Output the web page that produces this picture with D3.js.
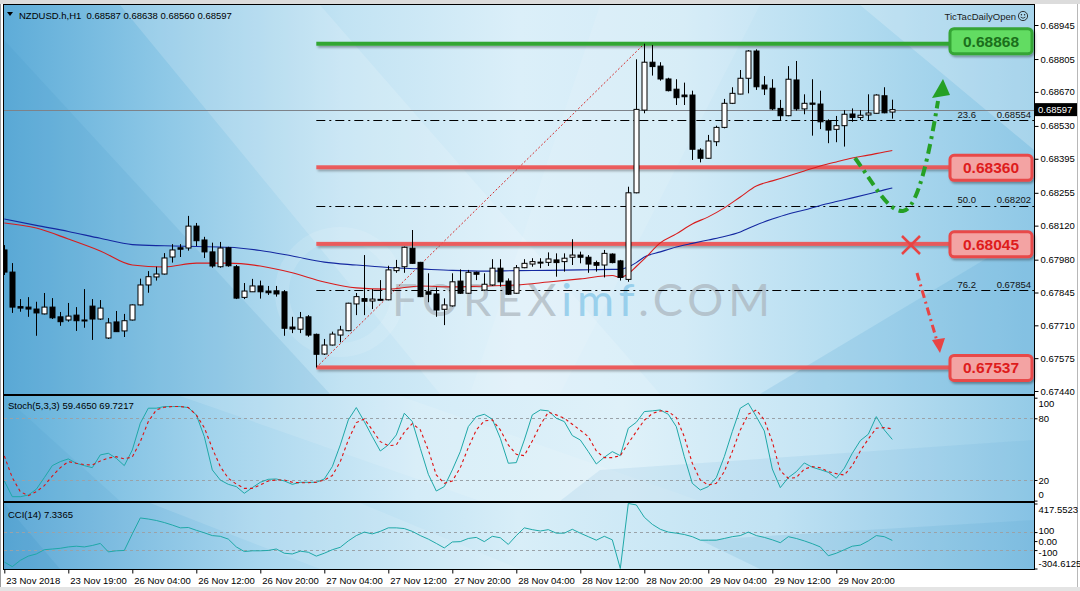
<!DOCTYPE html>
<html><head><meta charset="utf-8">
<script src="https://cdn.jsdelivr.net/npm/d3@7"></script>
<style>
html,body{margin:0;padding:0;background:#fff;overflow:hidden;}
svg{display:block;font-family:"Liberation Sans",Arial,sans-serif;}
</style></head><body>
<svg id="c" width="1080" height="591"></svg>
<script>
// ---------------- DATA ----------------
const headerText = "NZDUSD.h,H1  0.68587 0.68638 0.68560 0.68597";
const stochText = "Stoch(5,3,3) 59.4650 69.7217";
const cciText = "CCI(14) 7.3365";
const brandText = "TicTacDailyOpen";
const timeTickBars = [0,8,16,24,32,40,48,56,64,72,80,88,96,104];
const timeLabels = ["23 Nov 2018","23 Nov 19:00","26 Nov 04:00","26 Nov 12:00","26 Nov 20:00","27 Nov 04:00","27 Nov 12:00","27 Nov 20:00","28 Nov 04:00","28 Nov 12:00","28 Nov 20:00","29 Nov 04:00","29 Nov 12:00","29 Nov 20:00"];
const priceTicks = [0.68945,0.68805,0.68670,0.68530,0.68395,0.68255,0.68120,0.67980,0.67845,0.67710,0.67575,0.67440];
const stochTicks = [100,80,20,0];
const stochLevels = [80,20];
const cciTicks = [417.5523,100,0,-100,-304.6125];
const cciTickLabels = ["417.5523","100","0.00","-100","-304.6125"];
const cciLevels = [100,-100];

const open = [0.68020,0.67929,0.67787,0.67785,0.67777,0.67757,0.67785,0.67745,0.67732,0.67752,
0.67732,0.67789,0.67736,0.67658,0.67724,0.67687,0.67732,0.67794,0.67876,0.67909,
0.67921,0.67991,0.68029,0.68028,0.68118,0.68061,0.68012,0.67951,0.68029,0.67951,
0.67825,0.67848,0.67872,0.67851,0.67852,0.67848,0.67703,0.67694,0.67745,0.67673,
0.67592,0.67629,0.67670,0.67688,0.67798,0.67820,0.67810,0.67817,0.67815,0.67935,
0.67951,0.68027,0.67969,0.67848,0.67839,0.67776,0.67790,0.67892,0.67842,0.67928,
0.67855,0.67876,0.67945,0.67892,0.67842,0.67947,0.67962,0.67970,0.67969,0.67979,
0.67972,0.67990,0.67999,0.67990,0.67968,0.67958,0.68003,0.67975,0.67899,0.68255,
0.68595,0.68792,0.68776,0.68723,0.68681,0.68657,0.68657,0.68431,0.68397,0.68465,
0.68524,0.68623,0.68661,0.68726,0.68838,0.68698,0.68685,0.68602,0.68572,0.68719,
0.68600,0.68624,0.68620,0.68551,0.68516,0.68531,0.68579,0.68565,0.68575,0.68582,
0.68654,0.68587];
const high = [0.68040,0.67966,0.67818,0.67826,0.67807,0.67843,0.67822,0.67765,0.67802,0.67785,
0.67859,0.67818,0.67814,0.67740,0.67769,0.67757,0.67796,0.67902,0.67933,0.67951,
0.68007,0.68044,0.68044,0.68160,0.68131,0.68074,0.68050,0.68053,0.68033,0.67958,
0.67884,0.67901,0.67894,0.67872,0.67872,0.67855,0.67745,0.67765,0.67752,0.67676,
0.67654,0.67684,0.67708,0.67803,0.67843,0.67999,0.67859,0.67896,0.67955,0.67979,
0.68034,0.68102,0.67971,0.67924,0.67866,0.67821,0.67924,0.67940,0.67938,0.67931,
0.67924,0.67982,0.67982,0.67903,0.67958,0.67982,0.67986,0.67986,0.68010,0.68006,
0.68006,0.68064,0.68013,0.67999,0.67976,0.68020,0.68006,0.67979,0.68280,0.68804,
0.68868,0.68863,0.68792,0.68728,0.68722,0.68708,0.68675,0.68438,0.68493,0.68531,
0.68641,0.68689,0.68760,0.68842,0.68845,0.68735,0.68722,0.68637,0.68776,0.68797,
0.68660,0.68722,0.68675,0.68557,0.68571,0.68595,0.68602,0.68595,0.68660,0.68660,
0.68689,0.68638];
const low = [0.67917,0.67761,0.67766,0.67745,0.67667,0.67755,0.67736,0.67708,0.67725,0.67687,
0.67700,0.67650,0.67732,0.67654,0.67683,0.67662,0.67730,0.67792,0.67844,0.67894,
0.67919,0.67968,0.67991,0.68017,0.68036,0.67987,0.67947,0.67947,0.67951,0.67818,
0.67818,0.67847,0.67820,0.67835,0.67828,0.67667,0.67678,0.67678,0.67663,0.67537,
0.67588,0.67627,0.67640,0.67686,0.67752,0.67752,0.67777,0.67812,0.67813,0.67926,
0.67926,0.67963,0.67826,0.67805,0.67745,0.67711,0.67787,0.67839,0.67840,0.67896,
0.67852,0.67872,0.67869,0.67835,0.67840,0.67945,0.67951,0.67945,0.67954,0.67910,
0.67931,0.67958,0.67965,0.67926,0.67931,0.67907,0.67965,0.67894,0.67889,0.68253,
0.68582,0.68737,0.68716,0.68672,0.68616,0.68616,0.68390,0.68380,0.68395,0.68447,
0.68520,0.68620,0.68660,0.68664,0.68678,0.68657,0.68595,0.68551,0.68570,0.68593,
0.68578,0.68490,0.68517,0.68459,0.68463,0.68445,0.68547,0.68554,0.68554,0.68581,
0.68582,0.68560];
const close = [0.67929,0.67785,0.67781,0.67777,0.67761,0.67785,0.67741,0.67725,0.67748,0.67729,
0.67730,0.67736,0.67781,0.67720,0.67684,0.67729,0.67794,0.67876,0.67910,0.67921,
0.67987,0.68020,0.68023,0.68118,0.68058,0.68012,0.67954,0.68028,0.67955,0.67822,
0.67851,0.67872,0.67848,0.67844,0.67839,0.67698,0.67695,0.67741,0.67670,0.67591,
0.67629,0.67674,0.67691,0.67801,0.67828,0.67809,0.67818,0.67814,0.67938,0.67947,
0.68031,0.67965,0.67828,0.67838,0.67773,0.67794,0.67889,0.67842,0.67928,0.67920,
0.67879,0.67945,0.67889,0.67838,0.67947,0.67965,0.67972,0.67968,0.67983,0.67968,
0.67986,0.67999,0.67990,0.67962,0.67957,0.68006,0.67968,0.67907,0.68255,0.68598,
0.68792,0.68774,0.68723,0.68675,0.68646,0.68650,0.68434,0.68397,0.68468,0.68524,
0.68623,0.68664,0.68726,0.68838,0.68691,0.68682,0.68600,0.68572,0.68722,0.68600,
0.68623,0.68619,0.68547,0.68513,0.68531,0.68578,0.68565,0.68574,0.68583,0.68657,
0.68584,0.68597];

// moving averages at these bars
const maBars = [0,4,8,12,16,20,24,28,32,36,40,44,48,52,56,60,64,68,72,76,77,78,79,80,82,84,86,88,90,92,94,96,98,100,102,104,106,108,110,111];
const maRed = [0.68131,0.68110,0.68065,0.68016,0.67958,0.67950,0.67966,0.67966,0.67954,0.67926,
0.67888,0.67864,0.67859,0.67872,0.67868,0.67872,0.67876,0.67888,0.67901,0.67915,
0.67907,0.67922,0.67952,0.67983,0.68049,0.68086,0.68127,0.68156,0.68193,0.68238,
0.68283,0.68304,0.68324,0.68345,0.68365,0.68382,0.68398,0.68410,0.68423,0.68429];
const maBlue = [0.68147,0.68121,0.68096,0.68068,0.68042,0.68037,0.68034,0.68031,0.68018,0.67995,
0.67970,0.67958,0.67948,0.67942,0.67936,0.67933,0.67935,0.67936,0.67938,0.67940,
0.67940,0.67950,0.67968,0.67991,0.68012,0.68032,0.68047,0.68061,0.68075,0.68094,
0.68123,0.68147,0.68168,0.68184,0.68203,0.68219,0.68234,0.68250,0.68267,0.68275];

const stochMain = [19.1,3.8,3.8,5.4,11.0,22.3,34.0,37.9,40.5,36.3,
34.0,32.0,44.4,46.0,41.1,34.0,49.2,75.2,89.8,89.8,
91.4,91.4,91.4,90.4,83.3,62.2,29.8,20.0,15.8,13.6,
7.1,12.6,17.8,20.7,21.0,19.1,15.8,17.8,17.8,17.8,
21.0,33.0,54.1,78.4,90.4,76.8,62.2,48.2,54.1,63.8,
84.9,76.8,50.8,25.6,9.3,13.6,29.8,47.6,71.9,81.6,
83.9,79.1,60.6,36.3,36.9,58.9,83.3,88.1,87.2,80.0,
76.8,63.2,58.9,47.6,35.6,42.1,47.6,43.7,70.3,76.1,
86.5,87.2,88.1,83.9,71.9,42.7,16.8,10.3,13.6,22.3,
42.7,67.1,89.8,94.6,81.6,67.7,30.7,12.6,22.3,28.1,
36.6,32.4,30.1,27.5,21.7,31.4,46.0,58.3,64.5,81.6,
68.7,59.465];
const stochSignal = [43.4,22.3,8.7,4.8,8.7,14.5,23.9,32.0,37.9,36.3,
35.0,34.6,38.5,41.4,42.7,40.5,42.4,57.3,76.8,88.1,
90.7,91.4,91.4,90.4,83.3,70.9,50.8,33.0,21.7,16.1,
11.9,11.9,15.2,19.1,20.0,20.0,17.8,17.4,17.4,17.8,
20.0,24.3,37.9,58.9,75.8,79.4,68.7,57.3,53.4,54.1,
66.4,74.8,68.7,49.2,24.9,16.8,19.1,32.0,51.5,68.7,
77.4,78.4,68.7,54.1,45.0,43.7,58.0,73.5,85.9,83.3,
80.0,74.2,68.4,62.2,48.2,41.8,41.8,43.7,55.7,67.1,
78.1,84.6,87.2,86.5,80.7,62.2,36.3,20.0,15.2,16.8,
28.1,47.6,68.7,83.9,88.1,78.4,57.3,28.8,21.7,22.3,
30.7,33.0,32.0,28.1,26.2,24.9,34.0,48.2,59.9,70.3,
70.9,69.7217];
const cci = [-233,-284,-214,-167,-143,-96,-88,-80,-65,-57,
-65,-49,-26,-120,-108,-104,80,257,245,229,
206,178,147,151,120,92,61,53,22,-65,
-116,-108,-108,-104,-88,-135,-143,-112,-124,-167,
-135,-96,-69,2,61,100,80,108,147,147,
139,108,61,22,-26,-76,-10,-6,29,41,
-6,53,37,-37,61,147,127,112,127,88,
88,131,88,49,10,53,14,-304.6125,417.5523,402,
265,186,131,100,88,73,49,10,10,10,
29,49,61,100,61,41,14,-18,49,29,
2,-29,-65,-163,-135,-96,-57,-45,2,61,
49,7.3365];

// horizontal levels and Fibonacci retracement
const levelValues = [0.68868,0.68360,0.68045,0.67537];
const fibLow = 0.67537, fibHigh = 0.68868;
const fibLowBar = 39, fibHighBar = 80;
const fibRatios = [23.6,50.0,76.2];
const fibValues = [0.68554,0.68202,0.67854];
const lastPrice = 0.68597;

// ---------------- LAYOUT ----------------
const W=1080,H=591;
const PX0=4, PX1=1034;
const main={y0:5,y1:394}, stoP={y0:396,y1:501}, cciP={y0:503,y1:569};

const svg=d3.select('#c');
const defs=svg.append('defs');

const x=d3.scaleLinear().domain([0,111]).range([4.3,892.3]);
const y=d3.scaleLinear().domain([priceTicks[priceTicks.length-1],priceTicks[0]]).range([391,25]);
const yS=d3.scaleLinear().domain([0,100]).range([500.6,397.7]);
const yC=d3.scaleLinear().domain([cciTicks[4],cciTicks[0]]).range([568.5,503.5]);

// gradients
function lg(id,stops,x2='1',y2='0'){
  const g=defs.append('linearGradient').attr('id',id).attr('x1','0').attr('y1','0').attr('x2',x2).attr('y2',y2);
  stops.forEach(s=>g.append('stop').attr('offset',s[0]).attr('stop-color',s[1]));
}
lg('gMain',[[0,'#5eacd8'],[0.15,'#8cc7e6'],[0.33,'#c2e3f3'],[0.5,'#dbeff9'],[0.66,'#d3ebf7'],[0.82,'#b3dcf0'],[1,'#8fc8e6']]);
lg('gSub',[[0,'#62b0da'],[0.2,'#a2d3ec'],[0.4,'#d4ecf8'],[0.6,'#dff1f9'],[0.8,'#c4e4f4'],[1,'#94cbe7']]);
lg('gCci',[[0,'#5ea9d6'],[0.25,'#a8d6ee'],[0.5,'#d8eef8'],[0.75,'#c0e2f3'],[1,'#86c2e4']]);

const sh=defs.append('filter').attr('id','shadow').attr('filterUnits','userSpaceOnUse')
  .attr('x',0).attr('y',0).attr('width',W).attr('height',H);
sh.append('feDropShadow').attr('dx',1.5).attr('dy',2).attr('stdDeviation',1.3).attr('flood-color','#000').attr('flood-opacity',0.33);

[['cMain',main],['cSto',stoP],['cCci',cciP]].forEach(([id,p])=>{
  defs.append('clipPath').attr('id',id).append('rect').attr('x',PX0).attr('y',p.y0).attr('width',PX1-PX0).attr('height',p.y1-p.y0);
});

// outer chrome
svg.append('rect').attr('width',W).attr('height',H).attr('fill','#ffffff');
svg.append('rect').attr('x',0).attr('y',0).attr('width',W).attr('height',4).attr('fill','#dcdcdc');
svg.append('rect').attr('x',0).attr('y',587).attr('width',W).attr('height',4).attr('fill','#e4e4e4');
svg.append('line').attr('x1',1077.5).attr('x2',1077.5).attr('y1',4).attr('y2',587).attr('stroke','#b8b8b8');
svg.append('line').attr('x1',0.5).attr('x2',0.5).attr('y1',4).attr('y2',587).attr('stroke','#9a9a9a');

// ---------- main panel background ----------
const gM=svg.append('g').attr('clip-path','url(#cMain)');
gM.append('rect').attr('x',PX0).attr('y',main.y0).attr('width',PX1-PX0).attr('height',main.y1-main.y0).attr('fill','url(#gMain)');
gM.append('polygon').attr('points','4,40 4,394 330,394').attr('fill','#3f95c9').attr('opacity',0.14);
gM.append('polygon').attr('points','120,5 320,5 660,394 440,394').attr('fill','#ffffff').attr('opacity',0.16);
gM.append('polygon').attr('points','860,5 1034,5 1034,150').attr('fill','#ffffff').attr('opacity',0.22);
gM.append('polygon').attr('points','760,394 1034,230 1034,394').attr('fill','#4fa3d4').attr('opacity',0.18);
gM.append('polygon').attr('points','600,5 760,5 560,394 470,394').attr('fill','#ffffff').attr('opacity',0.10);
gM.append('circle').attr('cx',340).attr('cy',292).attr('r',58).attr('fill','none').attr('stroke','#ffffff').attr('stroke-width',14).attr('opacity',0.12);

// watermark
const wm=gM.append('text').attr('x',392).attr('y',316).attr('font-family','Lato, "Open Sans", sans-serif')
  .attr('font-size',45).attr('font-weight',400).attr('textLength',378).attr('lengthAdjust','spacing');
wm.append('tspan').text('FOREX').attr('fill','#a9b3bb').attr('fill-opacity',0.7);
wm.append('tspan').text('imf').attr('fill','#84c6e8').attr('fill-opacity',0.75);
wm.append('tspan').text('.COM').attr('fill','#a9b3bb').attr('fill-opacity',0.7);

// fib dash-dot lines
const gF=gM.append('g');
fibValues.forEach((v,k)=>{
  gF.append('line').attr('x1',x(fibLowBar)).attr('x2',PX1).attr('y1',Math.round(y(v))+0.5).attr('y2',Math.round(y(v))+0.5)
    .attr('stroke','#000').attr('stroke-width',1).attr('stroke-dasharray','9,4,2,4');
  gF.append('text').attr('x',976).attr('y',y(v)-2.5).attr('text-anchor','end').attr('font-size',9.5).attr('fill','#111').text(fibRatios[k].toFixed(1));
  gF.append('text').attr('x',1031).attr('y',y(v)-2.5).attr('text-anchor','end').attr('font-size',9.5).attr('fill','#111').text(v.toFixed(5));
});
// fib trend line
gM.append('line').attr('x1',x(fibLowBar)).attr('y1',y(fibLow)).attr('x2',x(fibHighBar)).attr('y2',y(fibHigh))
  .attr('stroke','#d42a2a').attr('stroke-width',1).attr('stroke-dasharray','2,2');

// current price line
gM.append('line').attr('x1',PX0).attr('x2',PX1).attr('y1',Math.round(y(lastPrice))+0.5).attr('y2',Math.round(y(lastPrice))+0.5)
  .attr('stroke','#7d8289').attr('stroke-width',1);

// level lines (drawn as thin bars so the shadow filter has a box), beneath candles
const gL=gM.append('g');
levelValues.forEach(v=>{
  const up=v>lastPrice;
  gL.append('rect').attr('x',x(fibLowBar)).attr('width',950-x(fibLowBar)).attr('y',y(v)-2).attr('height',4)
    .attr('fill',up?'#33a633':'#ee5050').attr('fill-opacity',up?1:0.9).attr('filter','url(#shadow)');
});

// moving averages
const maLine=d3.line().x(d=>x(d[0])).y(d=>y(d[1])).curve(d3.curveMonotoneX);
gM.append('path').attr('d',maLine(maBars.map((b,i)=>[b,maBlue[i]]))).attr('fill','none').attr('stroke','#1428a0').attr('stroke-width',1.1);
gM.append('path').attr('d',maLine(maBars.map((b,i)=>[b,maRed[i]]))).attr('fill','none').attr('stroke','#d81c1c').attr('stroke-width',1.1);

// candles
const gC=gM.append('g');
d3.range(open.length).forEach(i=>{
  const cx=Math.round(x(i))+0.5;
  const bull=close[i]>=open[i];
  gC.append('line').attr('x1',cx).attr('x2',cx).attr('y1',y(high[i])).attr('y2',y(low[i])).attr('stroke','#000').attr('stroke-width',1);
  const top=y(Math.max(open[i],close[i])), bot=y(Math.min(open[i],close[i]));
  gC.append('rect').attr('x',cx-2.5).attr('width',5).attr('y',top).attr('height',Math.max(1,bot-top))
    .attr('fill',bull?'#ffffff':'#000000').attr('stroke','#000').attr('stroke-width',1);
});

// arrows & marks
const gA=svg.append('g');
gA.append('path').attr('d','M855,158 C874,184 888,212 903,211 C918,210 930,150 938,101')
  .attr('fill','none').attr('stroke','#25a025').attr('stroke-width',4).attr('stroke-dasharray','10,5,3,5');
gA.append('polygon').attr('points','943,79 932,98 950,95').attr('fill','#25a025');
gA.append('line').attr('x1',917).attr('y1',273).attr('x2',937).attr('y2',341)
  .attr('stroke','#e84444').attr('stroke-width',3).attr('stroke-dasharray','8,4,2,4');
gA.append('polygon').attr('points','940,353 932,340 945,338').attr('fill','#e84444');
gA.append('line').attr('x1',902).attr('y1',236).attr('x2',920).attr('y2',254).attr('stroke','#e84444').attr('stroke-width',2.5);
gA.append('line').attr('x1',902).attr('y1',254).attr('x2',920).attr('y2',236).attr('stroke','#e84444').attr('stroke-width',2.5);

// level boxes
levelValues.forEach(v=>{
  const up=v>lastPrice;
  const cy=y(v)+(up?-2.5:0.5);
  const g=svg.append('g');
  g.append('rect').attr('x',950).attr('y',cy-12.5).attr('width',82).attr('height',25).attr('rx',4)
    .attr('fill',up?'#62dc62':'#f3a3a3').attr('stroke',up?'#34a534':'#e84848').attr('stroke-width',3).attr('filter','url(#shadow)');
  g.append('text').attr('x',991).attr('y',cy+5.5).attr('text-anchor','middle').attr('font-size',15.5).attr('font-weight','bold')
    .attr('fill',up?'#1b6f1b':'#de1c1c').text(v.toFixed(5));
});

// header texts
svg.append('path').attr('d','M7,12 L13,12 L10,16 Z').attr('fill','#000');
svg.append('text').attr('x',19).attr('y',18.5).attr('font-size',9.5).attr('fill','#000').attr('xml:space','preserve').style('white-space','pre').text(headerText);
svg.append('text').attr('x',1016).attr('y',19.5).attr('text-anchor','end').attr('font-size',9.5).attr('fill','#1a1a1a').text(brandText);
const sm=svg.append('g').attr('transform','translate(1023,16)');
sm.append('circle').attr('r',4.6).attr('fill','none').attr('stroke','#222').attr('stroke-width',0.9);
sm.append('circle').attr('cx',-1.6).attr('cy',-1.2).attr('r',0.7).attr('fill','#222');
sm.append('circle').attr('cx',1.6).attr('cy',-1.2).attr('r',0.7).attr('fill','#222');
sm.append('path').attr('d','M-2.4,1 Q0,3.6 2.4,1').attr('fill','none').attr('stroke','#222').attr('stroke-width',0.8);

// ---------- stochastic panel ----------
const gS=svg.append('g').attr('clip-path','url(#cSto)');
gS.append('rect').attr('x',PX0).attr('y',stoP.y0).attr('width',PX1-PX0).attr('height',stoP.y1-stoP.y0).attr('fill','url(#gSub)');
gS.append('polygon').attr('points','4,396 4,501 120,501').attr('fill','#3f95c9').attr('opacity',0.12);
gS.append('polygon').attr('points','180,396 400,396 700,501 480,501').attr('fill','#fff').attr('opacity',0.12);
gS.append('polygon').attr('points','600,470 1034,440 1034,501 560,501').attr('fill','#5aa8d6').attr('opacity',0.12);
stochLevels.forEach(v=>{
  gS.append('line').attr('x1',PX0).attr('x2',PX1).attr('y1',Math.round(yS(v))+0.5).attr('y2',Math.round(yS(v))+0.5)
    .attr('stroke','#9aa2a8').attr('stroke-width',1).attr('stroke-dasharray','3,3');
});
const sLine=d3.line().x((d,i)=>x(i)).y(d=>yS(d));
gS.append('path').attr('d',sLine(stochMain)).attr('fill','none').attr('stroke','#1fa8a8').attr('stroke-width',1);
gS.append('path').attr('d',sLine(stochSignal)).attr('fill','none').attr('stroke','#e01010').attr('stroke-width',1.1).attr('stroke-dasharray','3,3');
svg.append('text').attr('x',8).attr('y',409).attr('font-size',9.5).attr('fill','#000').text(stochText);

// ---------- CCI panel ----------
const gK=svg.append('g').attr('clip-path','url(#cCci)');
gK.append('rect').attr('x',PX0).attr('y',cciP.y0).attr('width',PX1-PX0).attr('height',cciP.y1-cciP.y0).attr('fill','url(#gCci)');
gK.append('polygon').attr('points','4,503 4,569 60,569').attr('fill','#3a8fc4').attr('opacity',0.18);
gK.append('polygon').attr('points','150,503 360,503 520,569 320,569').attr('fill','#fff').attr('opacity',0.12);
gK.append('polygon').attr('points','700,540 1034,520 1034,569 760,569').attr('fill','#4f9fd0').attr('opacity',0.16);
cciLevels.forEach(v=>{
  gK.append('line').attr('x1',PX0).attr('x2',PX1).attr('y1',Math.round(yC(v))+0.5).attr('y2',Math.round(yC(v))+0.5)
    .attr('stroke','#9aa2a8').attr('stroke-width',1).attr('stroke-dasharray','3,3');
});
const cLine=d3.line().x((d,i)=>x(i)).y(d=>yC(d));
gK.append('path').attr('d',cLine(cci)).attr('fill','none').attr('stroke','#1fa8a8').attr('stroke-width',1);
svg.append('text').attr('x',8).attr('y',517.5).attr('font-size',9.5).attr('fill','#000').text(cciText);

// ---------- panel frames ----------
[main,stoP,cciP].forEach(p=>{
  svg.append('rect').attr('x',PX0-0.5).attr('y',p.y0-0.5).attr('width',PX1-PX0+1).attr('height',p.y1-p.y0+1)
    .attr('fill','none').attr('stroke','#000').attr('stroke-width',1);
});

// ---------- axes ----------
const axP=svg.append('g').attr('transform',`translate(${PX1+0.5},0)`)
  .call(d3.axisRight(y).tickValues(priceTicks).tickFormat(d3.format('.5f')).tickSize(4).tickPadding(2));
const axS=svg.append('g').attr('transform',`translate(${PX1+0.5},0)`)
  .call(d3.axisRight(yS).tickValues(stochTicks).tickFormat(d3.format('d')).tickSize(3).tickPadding(1));
axS.selectAll('.tick text').attr('dy',d=>d===100?'0.95em':(d===0?'-0.3em':'0.32em'));
const axC=svg.append('g').attr('transform',`translate(${PX1+0.5},0)`)
  .call(d3.axisRight(yC).tickValues(cciTicks).tickFormat((d,i)=>cciTickLabels[i]).tickSize(3).tickPadding(1));
axC.selectAll('.tick text').attr('dy',(d,i)=>i===0?'0.95em':(i===4?'-0.2em':(i===1?'0.1em':(i===3?'0.55em':'0.32em'))));
const axT=svg.append('g').attr('transform',`translate(0,${cciP.y1+0.5})`)
  .call(d3.axisBottom(x).tickValues(timeTickBars).tickFormat((d,i)=>timeLabels[i]).tickSize(4).tickPadding(4));
axT.selectAll('.tick text').attr('text-anchor','start').attr('x',1.5);
[axP,axS,axC,axT].forEach(a=>{
  a.select('.domain').remove();
  a.selectAll('.tick text').attr('font-family','"Liberation Sans",Arial,sans-serif').attr('font-size',9.5).attr('fill','#000');
  a.selectAll('.tick line').attr('stroke','#000');
});
// right axis line
svg.append('line').attr('x1',PX1+0.5).attr('x2',PX1+0.5).attr('y1',main.y0).attr('y2',cciP.y1).attr('stroke','#000');

// last price tag
const lp=y(lastPrice);
svg.append('rect').attr('x',1035).attr('y',lp-6.5).attr('width',42).attr('height',13).attr('fill','#000');
svg.append('text').attr('x',1038).attr('y',lp+3.5).attr('font-size',9.5).attr('fill','#fff').text(lastPrice.toFixed(5));
</script>
</body></html>
